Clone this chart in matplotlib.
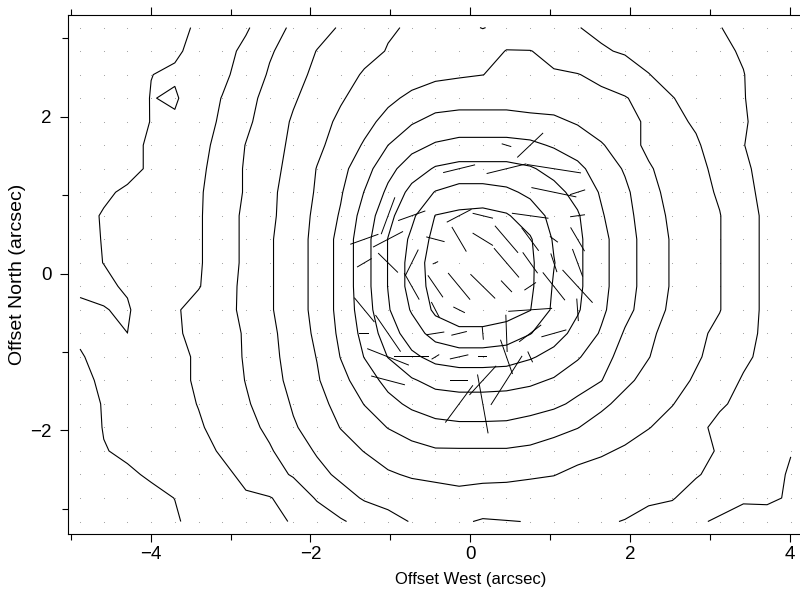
import numpy as np
import matplotlib
matplotlib.use('Agg')
import matplotlib.pyplot as plt
from matplotlib.ticker import MultipleLocator

# map sampling (arcsec): image pixel grid
x0, dx, nx = -4.885, 0.2966, 31
y0, dy, ny = 3.139, -0.300, 22
x_pix = x0 + dx * np.arange(nx)
y_pix = y0 + dy * np.arange(ny)

# intensity map in tenths of a contour step (row 0 = north edge)
flux = [
    [0, 1, 3, 6, 8, 11, 14, 19, 25, 32, 36, 41, 44, 49, 51, 51.5, 51.5, 49.8, 51.5, 51, 50.5, 50.3, 48, 46, 45, 45, 42, 40.3, 37, 33, 31],
    [0, 2, 4, 7, 9, 12, 17, 22, 29, 34, 40.3, 43, 47, 50.5, 52, 54, 54, 54, 60.5, 60.3, 57, 54, 51, 49, 46, 45, 44, 42, 39, 34, 31],
    [0, 3, 5, 9.9, 11, 14, 18, 24, 31, 37, 42, 46, 51, 54, 56, 58, 59, 59.9, 62, 62, 61, 60.3, 58, 55, 50.3, 46, 44, 42, 40.3, 35, 32],
    [1, 4, 6, 10.3, 9, 15, 20.3, 27, 33, 39, 44, 49, 54, 58, 62, 65, 66, 66, 66, 65, 65, 64, 62, 60.5, 57, 50.4, 46, 43, 40.5, 35, 32],
    [2, 5, 7, 10.2, 11.1, 17, 21, 28, 35, 41, 46, 52, 57, 63, 69, 73, 74, 74, 74, 73, 72, 69, 64, 62, 59, 52, 49, 44, 41, 36, 33],
    [3, 5, 8, 11, 14, 17, 23, 30.3, 36, 42, 48, 54, 61, 70, 77, 81, 83, 83, 83, 82, 79, 76, 71, 64, 58, 54, 51, 46, 40.3, 35, 32],
    [3, 6, 8, 11, 14, 18, 24, 31, 37, 43, 50.3, 57, 66, 77, 85, 91, 93, 93, 93, 91, 87, 82, 76, 69, 61, 56, 52, 48, 42, 36, 31],
    [3, 9, 11, 12, 15, 19, 24, 31, 38, 44, 51, 59, 70.3, 82, 93, 100.5, 104, 104, 102, 98, 93, 87, 79, 72, 63, 57, 53, 49, 43, 37, 32],
    [8, 10.5, 12, 13, 15, 19, 25, 32, 38, 45, 52, 61, 74, 87, 98, 110.3, 112, 113, 111, 105, 97, 91, 81, 73, 65, 58, 54, 50.3, 44, 38, 32],
    [8, 10.3, 12, 13, 15, 19, 25, 32, 39, 45, 53, 63, 76, 90.3, 102, 113, 117, 117, 115, 111, 99, 92, 83, 74, 66, 59, 54, 50.3, 44, 38, 33],
    [8, 10.1, 12, 13, 15, 19, 25, 32, 39, 45, 53, 63, 76, 90.3, 104, 115, 121, 122, 117, 112, 100.4, 92, 83, 74, 66, 59, 54, 50.3, 44, 38, 33],
    [8, 8.5, 11, 16, 16, 19.5, 25, 33, 39, 45, 53, 63, 76, 90.3, 104, 114, 121, 121, 117, 112, 99, 92, 83, 74, 66, 59, 54, 50.3, 44, 38, 33],
    [12.2, 10.3, 9, 16, 19, 23, 27, 32, 39, 45, 53, 63, 75, 89, 101, 112, 115, 115, 114, 110.3, 98, 91, 82, 73, 65, 58, 54, 50.3, 44, 38, 33],
    [11, 11, 10.02, 16, 19, 22, 26, 31, 38, 44, 52, 62, 73, 85, 95, 104, 108, 108, 106, 100.4, 94, 87, 79, 69, 62, 56, 52, 48, 43, 38, 33],
    [9.5, 12, 12, 15, 18, 21, 25, 31, 37, 44, 50.3, 60.3, 70.3, 80.3, 88, 93, 95, 95, 94, 91, 87, 81, 74, 66, 60.3, 55, 51, 47, 42, 37, 32],
    [8.5, 11, 12, 15, 18, 21, 25, 30.3, 36, 43, 49, 57, 65, 73, 79, 83, 84, 84, 84, 82, 79, 74, 70.3, 62, 57, 53, 49, 45, 39, 37, 32],
    [8, 10.3, 12, 14, 17, 20.3, 24, 29, 34, 41, 47, 53, 60.3, 67, 72, 75, 76, 76, 75, 74, 72, 68, 62, 57, 53, 50.3, 46, 41, 38, 36, 31],
    [7.5, 10.2, 11, 13, 16, 19, 23, 27, 32, 39, 44, 50.3, 55, 60.3, 64, 67, 68, 68, 68, 66, 63, 60.3, 56, 53, 50.3, 47, 42, 38, 36, 34, 31.5],
    [6, 9.8, 10.7, 12, 15, 17, 21, 25, 29, 35, 41, 46, 50.3, 54, 57, 59, 59, 59, 59, 58, 56, 53, 51, 49, 46, 44, 42, 39.4, 36, 33, 30.1],
    [5, 7, 9.4, 10.5, 13, 16, 18, 22, 26, 31, 37, 42, 45, 49, 51, 52, 53, 53, 52, 51, 50.3, 48, 47, 45, 43, 42, 40.8, 37, 33, 31, 29.7],
    [4, 6, 8, 9, 10.05, 14, 16, 19, 19.6, 23, 31, 36, 41, 43, 45, 46, 47, 45, 46, 46, 45, 44, 43, 42, 41, 40.6, 36, 33, 31, 30.8, 29.5],
    [2, 4, 6, 8, 9.5, 11.5, 14, 16, 18, 20.6, 24, 29, 33, 37, 40.5, 41, 41, 39.3, 39.7, 40.2, 41, 41, 40.6, 39.8, 38, 35, 31, 29, 27, 28, 25],
]
levels = [10, 20, 30, 40, 50, 60, 70, 80, 90, 100, 110]

# polarization vectors: pixel column, pixel row, angle (deg from +x), length (px)
vec_col = [18, 19, 16, 18, 20, 20, 21, 19, 21, 16, 17, 13, 14,
           12, 13, 15, 16, 17, 18, 19, 20, 12, 15, 18, 19, 20, 14, 13,
           14, 15, 16, 17, 18, 19, 20, 21, 12, 15, 16, 19, 21,
           15, 16, 17, 19, 20, 12, 13, 14, 15, 16, 17, 18, 19, 13,
           16, 17, 18, 13, 16, 17, 21, 21, 18]
vec_row = [5, 5, 6, 6, 6, 7, 7, 8, 8, 8, 8, 8, 8,
           9, 9, 9, 9, 9, 9, 9, 9, 10, 10, 10, 10, 10, 10, 10,
           11, 11, 11, 11, 11, 11, 11, 11, 12, 12, 12, 12, 12,
           13, 13, 13, 13, 13, 13, 13, 14, 14, 14, 14, 14, 14, 14,
           15, 15, 15, 15, 16, 16, 9, 10, 13]
vec_ang = [-17, 44, 14, 14, -9, -12, 18, -8, 8, 28, -14, 70, 20,
           20, 28, -15, -60, -32, -50, -54, -37, 31, 25, -50, -55, -72, 64, -45,
           -61, -56, -51, -45, -47, 34, -52, -48, -51, -63, -27, 4, -86,
           9, 14, -85, 38, 16, 0, -56, 0, 32, 13, 0, -71, -66, -22,
           0, 48, 58, -15, 54, -80, -60, -70, -88]
vec_len = [10, 36, 33, 41, 55, 46, 16, 37, 15, 28, 21, 40, 29,
           30, 34, 19, 29, 24, 36, 29, 10, 17, 6, 39, 26, 20, 30, 28,
           31, 27, 35, 35, 16, 14, 36, 45, 32, 18, 13, 44, 23,
           18, 16, 13, 28, 26, 10, 45, 35, 9, 19, 9, 37, 12, 45,
           18, 40, 59, 35, 47, 61, 28, 30, 38]

plt.rcParams['font.family'] = ['Liberation Sans', 'DejaVu Sans']

fig = plt.figure(figsize=(8.0, 6.01), dpi=100)
ax = fig.add_axes([0.0856, 0.1115, 1.0044, 0.8636])

# faint dots at every map pixel
gx, gy = np.meshgrid(x_pix, y_pix)
ax.scatter(gx.ravel(), gy.ravel(), s=0.6, color='0.6', linewidths=0, zorder=1)

ax.contour(x_pix, y_pix, np.array(flux), levels=levels, colors='k', linewidths=0.8, zorder=2)

th = np.deg2rad(vec_ang)
ln = np.array(vec_len) / 80.0
ax.quiver(x_pix[vec_col], y_pix[vec_row], ln * np.cos(th), ln * np.sin(th),
          angles='xy', scale_units='xy', scale=1, pivot='middle',
          headwidth=0, headlength=0, headaxislength=0,
          width=0.0012, color='k', zorder=3)

ax.set_xlim(-5.03, 5.03)
ax.set_ylim(-3.32, 3.30)
ax.xaxis.set_major_locator(MultipleLocator(2))
ax.xaxis.set_minor_locator(MultipleLocator(1))
ax.yaxis.set_major_locator(MultipleLocator(2))
ax.yaxis.set_minor_locator(MultipleLocator(1))
ax.tick_params(which='both', direction='out', top=True, right=True,
               width=0.8, labelsize=13.5, pad=6)
ax.tick_params(axis='x', which='both', pad=3)
ax.tick_params(which='major', length=6)
ax.tick_params(which='minor', length=4)
for s in ax.spines.values():
    s.set_linewidth(0.8)

ax.set_xlabel('Offset West (arcsec)', fontsize=12, labelpad=6)
ax.set_ylabel('Offset North (arcsec)', fontsize=14, labelpad=3)

fig.savefig('out.png', dpi=100)
